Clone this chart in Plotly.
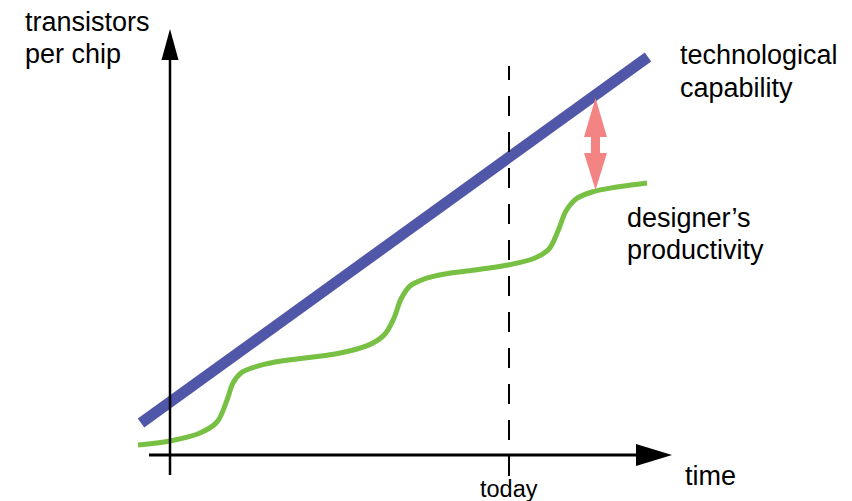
import plotly.graph_objects as go

# Canvas coordinates: time (x) to the right, level (y) upward; 852 x 501 units
W, H = 852, 501

# Technological capability (straight line)
tech_time = [141, 648]
tech_level = [78, 444]

# Designer's productivity (stepped S-curve)
prod_time = [138, 170, 200, 217, 227, 233, 241, 255, 275, 305, 335, 357, 373, 385,
             394, 401, 410, 424, 445, 475, 508, 535, 549, 558, 566, 576, 592, 617, 647]
prod_level = [56, 60, 68, 79, 101, 118, 128, 134, 139, 143, 147, 152, 158, 167,
              183, 202, 215, 222, 227, 231, 236, 243, 252, 270, 290, 302, 309, 314, 318]

# Axes geometry
y_axis_x = 170
y_axis_bottom, y_axis_top = 26, 441
x_axis_y = 46
x_axis_left, x_axis_right = 149, 636
today_x = 509
today_bottom, today_top = 25, 435

# Gap arrow
gap_x = 595.5
gap_top_tip, gap_top_base = 403, 364
gap_bot_base, gap_bot_tip = 348, 311

BLUE = "#5157A8"
GREEN = "#77C043"
RED = "#F48383"
FONT = "Arial, Liberation Sans, sans-serif"

fig = go.Figure()

fig.add_trace(go.Scatter(x=prod_time, y=prod_level, mode="lines",
                         line=dict(color=GREEN, width=5, shape="spline", smoothing=1.0),
                         hoverinfo="skip"))
fig.add_trace(go.Scatter(x=tech_time, y=tech_level, mode="lines",
                         line=dict(color=BLUE, width=11), hoverinfo="skip"))

shapes = []
# y axis
shapes.append(dict(type="line", x0=y_axis_x, x1=y_axis_x, y0=y_axis_bottom, y1=y_axis_top,
                   line=dict(color="black", width=2.5)))
shapes.append(dict(type="path",
                   path=f"M {y_axis_x-8.5},{y_axis_top} L {y_axis_x+8.5},{y_axis_top} L {y_axis_x},{472} Z",
                   fillcolor="black", line=dict(width=0)))
# x axis
shapes.append(dict(type="line", x0=x_axis_left, x1=x_axis_right, y0=x_axis_y, y1=x_axis_y,
                   line=dict(color="black", width=3)))
shapes.append(dict(type="path",
                   path=f"M {x_axis_right},{x_axis_y+11} L {x_axis_right},{x_axis_y-11} L 672,{x_axis_y} Z",
                   fillcolor="black", line=dict(width=0)))
# today dashed line
shapes.append(dict(type="line", x0=today_x, x1=today_x, y0=today_bottom, y1=today_top,
                   line=dict(color="black", width=2, dash="20px,16px")))
# gap double arrow
hw, sw = 11.5, 4.5
shapes.append(dict(type="path",
                   path=(f"M {gap_x},{gap_top_tip} L {gap_x+hw},{gap_top_base} L {gap_x+sw},{gap_top_base} "
                         f"L {gap_x+sw},{gap_bot_base} L {gap_x+hw},{gap_bot_base} L {gap_x},{gap_bot_tip} "
                         f"L {gap_x-hw},{gap_bot_base} L {gap_x-sw},{gap_bot_base} L {gap_x-sw},{gap_top_base} "
                         f"L {gap_x-hw},{gap_top_base} Z"),
                   fillcolor=RED, line=dict(width=0)))

labels = [
    ("transistors", 23, 479), ("per chip", 23, 447),
    ("technological", 678, 446), ("capability", 678, 413),
    ("designer’s", 625, 283), ("productivity", 625, 251),
    ("time", 683, 25),
]
annotations = [dict(text=t, x=x, y=y, xref="x", yref="y", xanchor="left", yanchor="middle",
                    showarrow=False, font=dict(family=FONT, size=27, color="black"))
               for t, x, y in labels]
annotations.append(dict(text="today", x=today_x, y=12, xref="x", yref="y", xanchor="center",
                        yanchor="middle", showarrow=False,
                        font=dict(family=FONT, size=23.5, color="black")))

fig.update_layout(
    width=W, height=H, margin=dict(l=0, r=0, t=0, b=0),
    paper_bgcolor="white", plot_bgcolor="white", showlegend=False,
    xaxis=dict(range=[0, W], visible=False, fixedrange=True),
    yaxis=dict(range=[0, H], visible=False, fixedrange=True),
    shapes=shapes, annotations=annotations,
)

fig.write_html("out.html", config={"displayModeBar": False},
               post_script="document.body.style.margin='0';document.body.style.overflow='hidden';")
